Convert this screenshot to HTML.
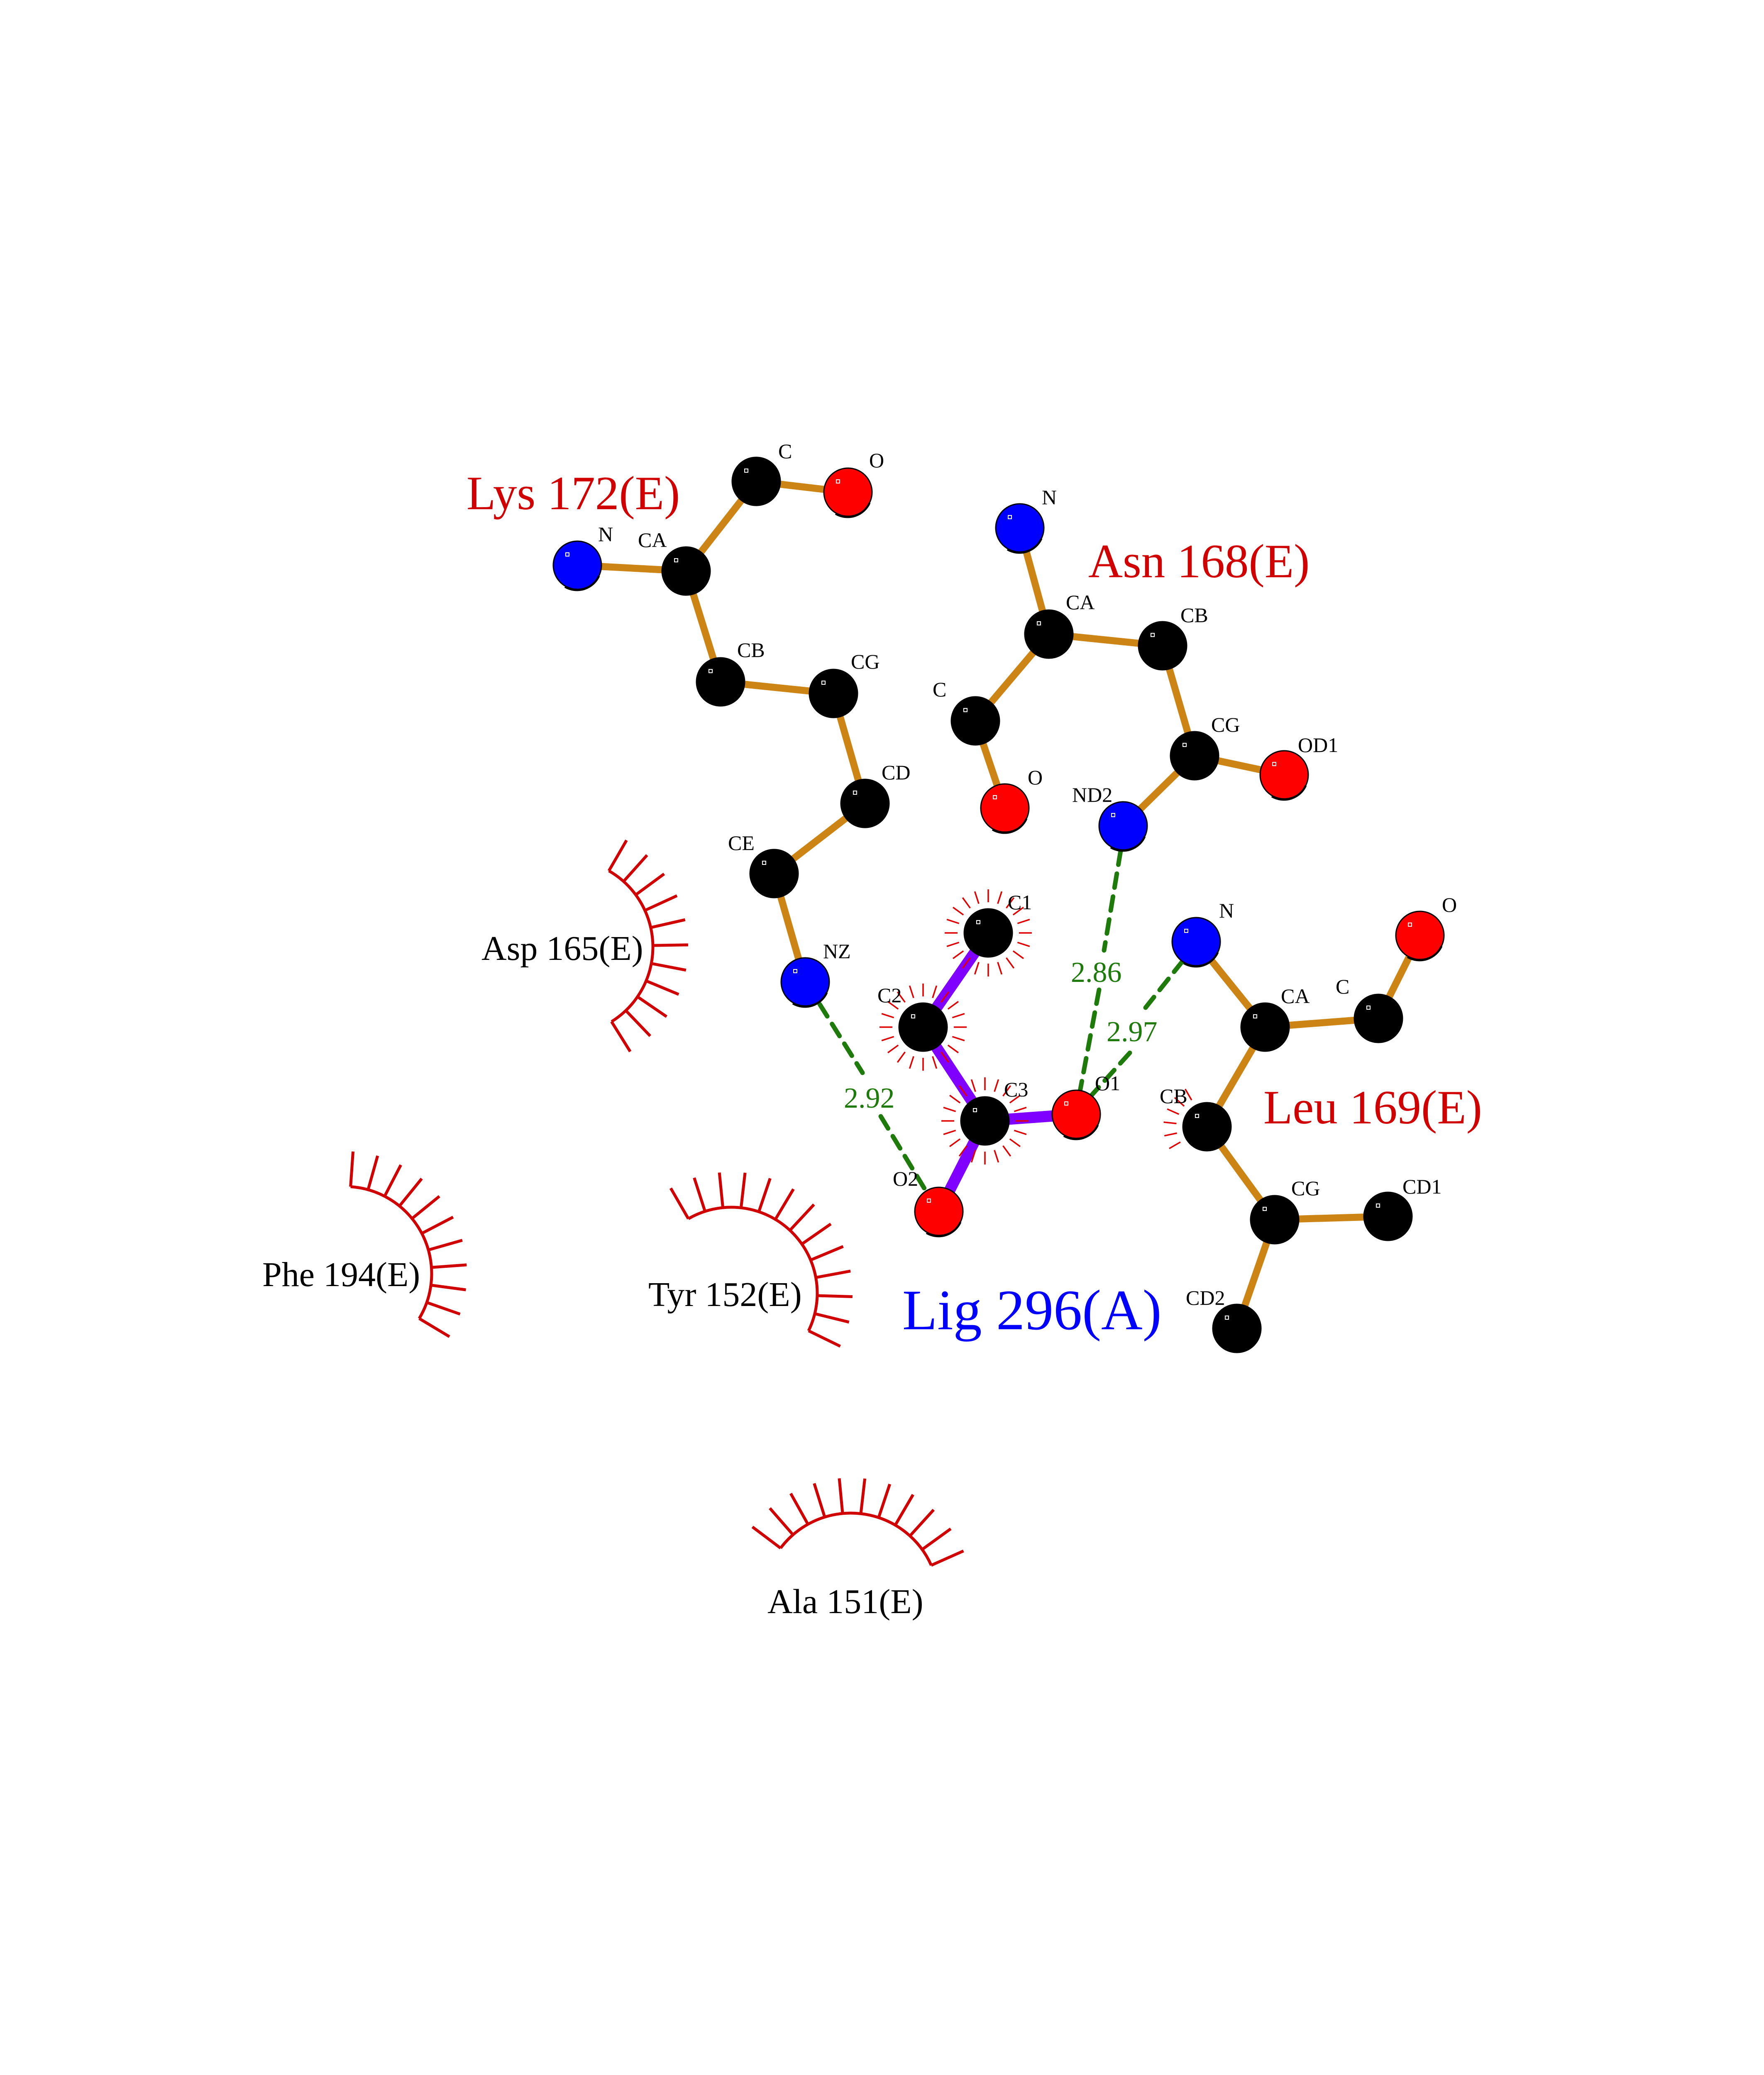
<!DOCTYPE html>
<html><head><meta charset="utf-8"><style>
html,body{margin:0;padding:0;background:#fff;width:4250px;height:5500px;overflow:hidden;}
svg{display:block;}
text{font-family:"Liberation Serif",serif;}
</style></head><body>
<svg id="s" xmlns="http://www.w3.org/2000/svg" width="4250" height="5500" viewBox="0 0 4250 5500">
<rect width="4250" height="5500" fill="#fff"/>
<g id="arcs"></g>
<g id="hb" stroke="#1e7a0a" stroke-width="11" stroke-dasharray="34,22" stroke-linecap="round" fill="none">
<line x1="1975" y1="2420" x2="2078" y2="2585"/>
<line x1="2122" y1="2690" x2="2240" y2="2885"/>
<line x1="2700" y1="2050" x2="2660" y2="2290"/>
<line x1="2648" y1="2385" x2="2600" y2="2640"/>
<line x1="2850" y1="2315" x2="2760" y2="2428"/>
<line x1="2722" y1="2537" x2="2620" y2="2650"/>
</g>
<g id="bonds" stroke-linecap="round"></g>
<g id="burst" stroke="#e00000" stroke-width="3.5"></g>
<g id="atoms"></g>
<g id="lbl" font-size="50" fill="#000"></g>
<g font-size="115" fill="#d00000">
<text x="1124" y="1227">Lys 172(E)</text>
<text x="2622" y="1391">Asn 168(E)</text>
<text x="3044" y="2707">Leu 169(E)</text>
</g>
<text x="2174" y="3203" font-size="138" fill="#0000ff">Lig 296(A)</text>
<g font-size="84" fill="#000">
<text x="1160" y="2313">Asp 165(E)</text>
<text x="632" y="3099">Phe 194(E)</text>
<text x="1562" y="3147">Tyr 152(E)</text>
<text x="1849" y="3887">Ala 151(E)</text>
</g>
<g font-size="70" fill="#1e7a0a">
<text x="2033" y="2669">2.92</text>
<text x="2580" y="2366">2.86</text>
<text x="2666" y="2509">2.97</text>
</g>
<circle cx="208" cy="5153" r="5" fill="#000"/>
</svg>
<script>
var NS="http://www.w3.org/2000/svg";
function el(p,t,a){var e=document.createElementNS(NS,t);for(var k in a)e.setAttribute(k,a[k]);document.getElementById(p).appendChild(e);return e;}
var A={
LN:[1391,1362,'b'],LCA:[1653,1376,'k'],LC:[1822,1160,'k'],LO:[2043,1186,'r'],LCB:[1736,1643,'k'],LCG:[2008,1671,'k'],LCD:[2084,1936,'k'],LCE:[1865,2105,'k'],LNZ:[1940,2366,'b'],
AN:[2457,1272,'b'],ACA:[2527,1528,'k'],ACB:[2801,1556,'k'],AC:[2350,1737,'k'],AO:[2421,1947,'r'],ACG:[2878,1821,'k'],AOD1:[3094,1867,'r'],AND2:[2706,1990,'b'],
EN:[2882,2269,'b'],ECA:[3048,2475,'k'],EC:[3321,2454,'k'],EO:[3421,2254,'r'],ECB:[2908,2715,'k'],ECG:[3071,2939,'k'],ECD1:[3344,2931,'k'],ECD2:[2980,3201,'k'],
C1:[2381,2248,'k'],C2:[2224,2475,'k'],C3:[2373,2701,'k'],O1:[2593,2685,'r'],O2:[2262,2919,'r']};
var B=[['LN','LCA'],['LCA','LC'],['LC','LO'],['LCA','LCB'],['LCB','LCG'],['LCG','LCD'],['LCD','LCE'],['LCE','LNZ'],
['AN','ACA'],['ACA','ACB'],['ACA','AC'],['AC','AO'],['ACB','ACG'],['ACG','AOD1'],['ACG','AND2'],
['EN','ECA'],['ECA','EC'],['EC','EO'],['ECA','ECB'],['ECB','ECG'],['ECG','ECD1'],['ECG','ECD2']];
B.forEach(function(b){var p=A[b[0]],q=A[b[1]];el('bonds','line',{x1:p[0],y1:p[1],x2:q[0],y2:q[1],stroke:'#cc8414','stroke-width':17});});
[['C1','C2'],['C2','C3'],['C3','O1'],['C3','O2']].forEach(function(b){var p=A[b[0]],q=A[b[1]];el('bonds','line',{x1:p[0],y1:p[1],x2:q[0],y2:q[1],stroke:'#8000ff','stroke-width':27});});
function burst(a,a0,a1,st){var p=A[a];for(var t=a0;t<=a1;t+=st){var r=t*Math.PI/180;el('burst','line',{x1:p[0]+74*Math.cos(r),y1:p[1]+74*Math.sin(r),x2:p[0]+105*Math.cos(r),y2:p[1]+105*Math.sin(r)});}}
burst('C1',0,350,18);burst('C2',0,350,18);burst('C3',0,350,18);burst('ECB',150,250,18);
var col={k:'#000',b:'#0000ff',r:'#ff0000'};
for(var k in A){var p=A[k];el('atoms','circle',{cx:p[0],cy:p[1],r:58,fill:col[p[2]],stroke:'#000','stroke-width':3});
if(p[2]!='k'){el('atoms','path',{d:'M'+(p[0]-30)+','+(p[1]+52)+' A58,58 0 0 0 '+(p[0]+52)+','+(p[1]+26),fill:'none',stroke:'#000','stroke-width':5});}
el('atoms','rect',{x:p[0]-28,y:p[1]-30,width:8,height:8,fill:'none',stroke:'#fff','stroke-width':2});}
var L=[['C',1875,1104],['O',2094,1126],['N',1441,1304],['CA',1537,1318],['CB',1776,1583],['CG',2050,1611],['CD',2124,1878],['CE',1754,2048],['NZ',1983,2309],
['N',2510,1215],['CA',2568,1468],['CB',2844,1499],['C',2247,1678],['O',2476,1890],['CG',2918,1763],['OD1',3127,1812],['ND2',2583,1932],
['N',2937,2211],['CA',3086,2417],['C',3218,2394],['O',3474,2197],['CB',2794,2658],['CG',3111,2880],['CD1',3379,2876],['CD2',2857,3144],
['C1',2428,2191],['C2',2114,2415],['C3',2419,2642],['O1',2638,2627],['O2',2151,2857]];
L.forEach(function(l){var t=el('lbl','text',{x:l[1],y:l[2]});t.textContent=l[0];});
function arc(cx,cy,r,a0,a1,n){var d=a0*Math.PI/180,e=a1*Math.PI/180;
el('arcs','path',{d:'M'+(cx+r*Math.cos(d))+','+(cy+r*Math.sin(d))+' A'+r+','+r+' 0 0 1 '+(cx+r*Math.cos(e))+','+(cy+r*Math.sin(e)),fill:'none',stroke:'#d00000','stroke-width':7});
for(var i=0;i<n;i++){var t=(a0+(a1-a0)*i/(n-1))*Math.PI/180;
el('arcs','line',{x1:cx+r*Math.cos(t),y1:cy+r*Math.sin(t),x2:cx+(r+85)*Math.cos(t),y2:cy+(r+85)*Math.sin(t),stroke:'#d00000','stroke-width':7});}}
arc(1361,2282,212,-60,58,11);
arc(830,3069,210,-86,31,11);
arc(1762,3116,207,-120,26,13);
arc(2050,3858,212,-143,-24,11);
</script>
</body></html>
